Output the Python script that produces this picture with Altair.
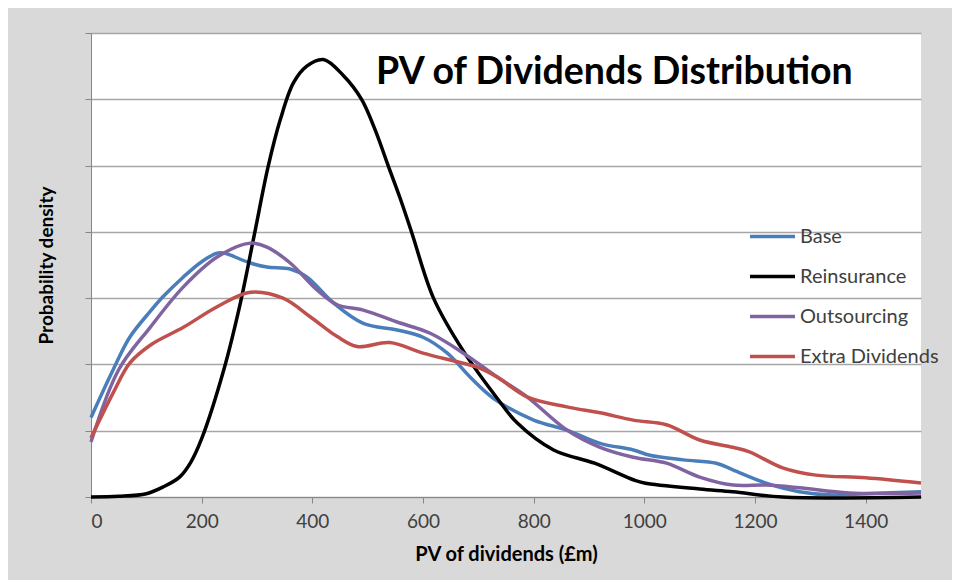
import altair as alt
import pandas as pd

series_names = ["Base", "Reinsurance", "Outsourcing", "Extra Dividends"]
series_colors = ["#4a7ebb", "#000000", "#8064a2", "#c0504d"]

base_x = [0, 40, 70, 107, 130, 167, 200, 228, 240, 288, 318, 360, 390, 438, 492, 553, 600, 644, 685, 727, 800, 860, 920, 980, 1010, 1070, 1130, 1160, 1220, 1280, 1340, 1400, 1500]
base_y = [1.2, 1.92, 2.41, 2.8, 3.02, 3.32, 3.55, 3.68, 3.68, 3.53, 3.47, 3.44, 3.32, 2.93, 2.62, 2.52, 2.41, 2.17, 1.81, 1.49, 1.16, 1.01, 0.81, 0.71, 0.63, 0.56, 0.51, 0.41, 0.21, 0.08, 0.03, 0.05, 0.08]

reins_x = [0, 50, 100, 130, 160, 180, 200, 240, 270, 295, 320, 342, 366, 390, 420, 456, 489, 513, 537, 559, 580, 619, 673, 734, 770, 836, 910, 980, 1000, 1100, 1160, 1250, 1500]
reins_y = [0.0, 0.01, 0.05, 0.15, 0.3, 0.52, 0.88, 1.92, 2.93, 3.95, 4.98, 5.69, 6.25, 6.5, 6.6, 6.36, 6.0, 5.55, 5.0, 4.5, 3.98, 3.0, 2.2, 1.49, 1.12, 0.71, 0.51, 0.26, 0.21, 0.12, 0.08, 0.0, 0.0]

outs_x = [0, 50, 107, 167, 228, 288, 318, 360, 409, 445, 492, 553, 613, 673, 734, 788, 860, 920, 980, 1040, 1100, 1160, 1220, 1280, 1370, 1500]
outs_y = [0.83, 1.92, 2.56, 3.17, 3.62, 3.83, 3.77, 3.53, 3.12, 2.9, 2.82, 2.64, 2.47, 2.17, 1.81, 1.51, 1.01, 0.75, 0.6, 0.51, 0.3, 0.18, 0.18, 0.14, 0.06, 0.06]

extra_x = [0, 40, 70, 107, 167, 228, 288, 347, 396, 445, 481, 540, 600, 662, 698, 734, 788, 860, 920, 980, 1040, 1100, 1160, 1190, 1250, 1310, 1400, 1500]
extra_y = [0.89, 1.57, 2.02, 2.29, 2.56, 2.87, 3.09, 3.0, 2.72, 2.42, 2.27, 2.33, 2.17, 2.04, 1.96, 1.81, 1.51, 1.36, 1.27, 1.16, 1.09, 0.86, 0.75, 0.68, 0.44, 0.33, 0.29, 0.21]

x_ticks = [0, 200, 400, 600, 800, 1000, 1200, 1400]
y_ticks = [0, 1, 2, 3, 4, 5, 6, 7]

rows = []
for name, xs, ys in [("Base", base_x, base_y), ("Reinsurance", reins_x, reins_y),
                     ("Outsourcing", outs_x, outs_y), ("Extra Dividends", extra_x, extra_y)]:
    for xv, yv in zip(xs, ys):
        rows.append({"series": name, "pv": xv, "density": yv})
df = pd.DataFrame(rows)

FONT = "Lato, sans-serif"

chart = alt.Chart(df).mark_line(interpolate="catmull-rom", strokeWidth=3.5).encode(
    x=alt.X("pv:Q", scale=alt.Scale(domain=[0, 1500], nice=False),
            axis=alt.Axis(values=x_ticks, format="d", title="PV of dividends (£m)", grid=False,
                          labelFontSize=19, labelColor="#404040", labelPadding=9,
                          tickSize=6, tickColor="#868686", domainColor="#868686",
                          titleFontSize=20, titleFontWeight="bold", titleColor="#000000",
                          titlePadding=13, labelFont=FONT, titleFont=FONT)),
    y=alt.Y("density:Q", scale=alt.Scale(domain=[0, 7], nice=False),
            axis=alt.Axis(values=y_ticks, labels=False, title="Probability density",
                          grid=True, gridColor="#a6a6a6", gridWidth=1.5,
                          tickSize=6, tickColor="#868686", domainColor="#868686",
                          titleFontSize=19, titleFontWeight="bold", titleColor="#000000",
                          titlePadding=28, titleFont=FONT)),
    color=alt.Color("series:N", sort=series_names,
                    scale=alt.Scale(domain=series_names, range=series_colors),
                    legend=alt.Legend(title=None, orient="none", legendX=657, legendY=179,
                                      symbolType="stroke", symbolSize=2025, symbolStrokeWidth=3.5,
                                      labelFontSize=20, labelColor="#404040", labelFont=FONT,
                                      rowPadding=5, labelOffset=3)),
    detail="series:N",
).properties(
    width=830, height=464,
    title=alt.TitleParams("PV of Dividends Distribution", orient="top", anchor="start",
                          frame="group", dx=285, dy=89, offset=0, baseline="alphabetic",
                          fontSize=37.5, fontWeight="bold", font=FONT, color="#000000"),
    padding={"left": 83, "top": 25, "right": 31, "bottom": 83},
    autosize=alt.AutoSizeParams(type="none"),
    background="#d9d9d9",
).configure_view(fill="#ffffff", stroke=None)

chart.save("out.html", embed_options={"renderer": "svg", "actions": False})
